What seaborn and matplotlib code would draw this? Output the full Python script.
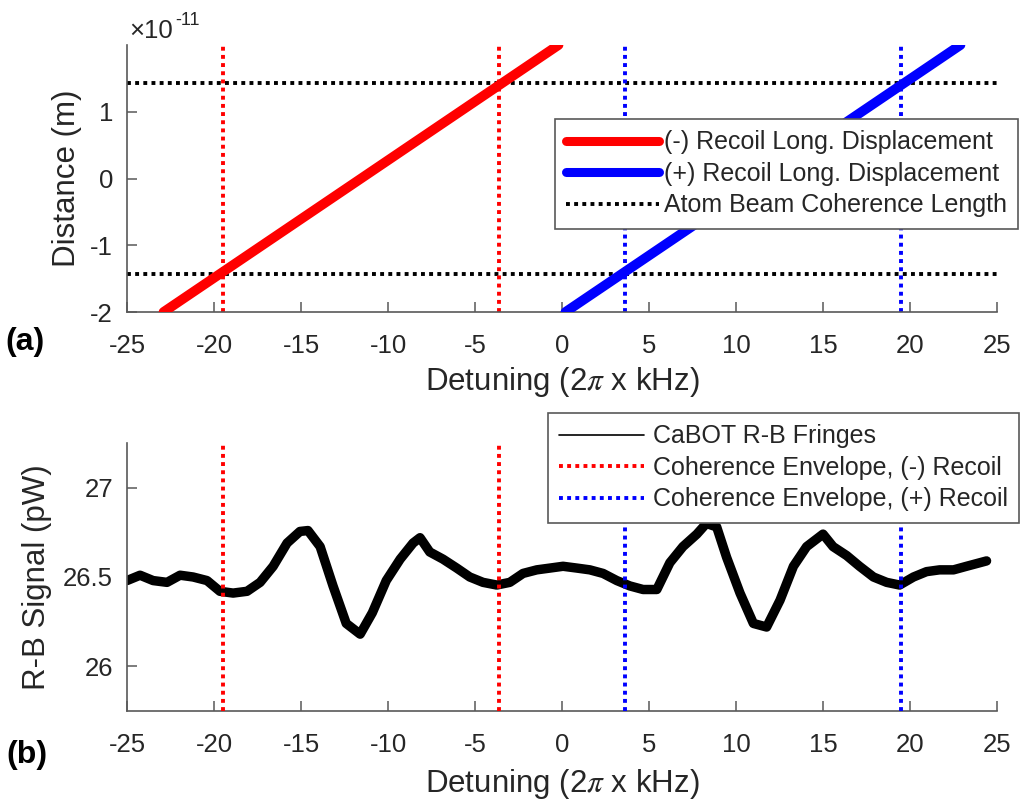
import matplotlib
matplotlib.use("Agg")
import matplotlib.pyplot as plt
import seaborn as sns
import pandas as pd
from matplotlib.lines import Line2D

# ---------------- data ----------------
det_ticks = [-25, -20, -15, -10, -5, 0, 5, 10, 15, 20, 25]
det_tick_labels = ["-25", "-20", "-15", "-10", "-5", "0", "5", "10", "15", "20", "25"]

# panel (a): recoil longitudinal displacement lines
neg_det = [-22.9, -0.2]
neg_dist = [-2.0e-11, 2.0e-11]
pos_det = [0.2, 22.9]
pos_dist = [-2.0e-11, 2.0e-11]
coh_len = [-1.43e-11, 1.43e-11]
env_neg = [-19.5, -3.6]
env_pos = [3.6, 19.5]
dist_ticks = [-2e-11, -1e-11, 0, 1e-11]
dist_tick_labels = ["-2", "-1", "0", "1"]

# panel (b): measured fringe signal
sig_det = [-25.0, -24.25, -23.5, -22.7, -21.95, -21.2, -20.4, -19.66, -18.9, -18.1,
           -17.35, -16.6, -15.8, -15.06, -14.6, -13.9, -13.16, -12.4, -11.6, -10.9,
           -10.1, -9.3, -8.56, -8.16, -7.6, -6.84, -6.05, -5.3, -4.54, -3.75,
           -3.0, -2.24, -1.45, -0.69, 0.06, 0.85, 1.6, 2.36, 3.15, 3.9,
           4.66, 5.45, 6.2, 6.95, 7.75, 8.3, 8.89, 9.46, 10.23, 11.0,
           11.76, 12.53, 13.3, 14.06, 15.0, 15.58, 16.36, 17.1, 17.9, 18.66,
           19.4, 20.2, 20.95, 21.7, 22.5, 23.25, 24.4]
sig_val = [26.48, 26.51, 26.48, 26.47, 26.51, 26.50, 26.48, 26.42, 26.41, 26.42,
           26.47, 26.56, 26.69, 26.755, 26.76, 26.67, 26.45, 26.24, 26.18, 26.30,
           26.48, 26.60, 26.69, 26.72, 26.64, 26.60, 26.55, 26.50, 26.47, 26.455,
           26.47, 26.52, 26.54, 26.55, 26.56, 26.55, 26.54, 26.52, 26.48, 26.45,
           26.43, 26.43, 26.58, 26.67, 26.74, 26.80, 26.78, 26.61, 26.41, 26.24,
           26.22, 26.37, 26.56, 26.67, 26.74, 26.67, 26.62, 26.56, 26.50, 26.47,
           26.455, 26.50, 26.53, 26.54, 26.54, 26.56, 26.59]
sig_ticks = [26, 26.5, 27]
sig_tick_labels = ["26", "26.5", "27"]

# ---------------- style ----------------
sns.set_theme(style="ticks")
plt.rcParams["font.family"] = ["Liberation Sans", "DejaVu Sans"]
plt.rcParams["axes.unicode_minus"] = False
plt.rcParams["mathtext.fontset"] = "stix"

TXT = "0.15"
SPN = "0.35"
DOT = (0, (1.0, 1.1))
TICK_FS = 18.5
LAB_FS = 22.5
LEG_FS = 18

fig = plt.figure(figsize=(10.21, 8.01), dpi=100)
W, H = 1021, 801
ax1 = fig.add_axes([127 / W, 1 - 312 / H, 870 / W, 267 / H])
ax2 = fig.add_axes([127 / W, 1 - 711 / H, 870 / W, 268 / H])

# ---------------- panel (a) ----------------
for y in coh_len:
    ax1.axhline(y, color="black", lw=2.8, ls=DOT, dash_capstyle="butt", zorder=2)
for x in env_neg:
    ax1.axvline(x, color="red", lw=2.8, ls=DOT, dash_capstyle="butt", zorder=2)
for x in env_pos:
    ax1.axvline(x, color="blue", lw=2.8, ls=DOT, dash_capstyle="butt", zorder=2)
sns.lineplot(x=neg_det, y=neg_dist, ax=ax1, color="red", lw=7, zorder=3)
sns.lineplot(x=pos_det, y=pos_dist, ax=ax1, color="blue", lw=7, zorder=3)

ax1.set_xlim(-25, 25)
ax1.set_ylim(-2e-11, 2e-11)
ax1.set_xticks(det_ticks, det_tick_labels)
ax1.set_yticks(dist_ticks, dist_tick_labels)
ax1.set_xlabel("Detuning (2$\\pi$ x kHz)", fontsize=LAB_FS, color=TXT, labelpad=5)
ax1.set_ylabel("Distance (m)", fontsize=LAB_FS, color=TXT, va="center")
ax1.yaxis.set_label_coords(-0.069, 0.5)

h1 = [Line2D([], [], color="red", lw=6.5),
      Line2D([], [], color="blue", lw=6.5),
      Line2D([], [], color="black", lw=2.8, ls=DOT, dash_capstyle="butt")]
l1 = ["(-) Recoil Long. Displacement", "(+) Recoil Long. Displacement",
      "Atom Beam Coherence Length"]
leg1 = ax1.legend(h1, l1, loc="upper right", bbox_to_anchor=(1018 / W, 1 - 119 / H),
                  bbox_transform=fig.transFigure, borderaxespad=0, fancybox=False,
                  framealpha=1, edgecolor=SPN, fontsize=LEG_FS, handlelength=3.7,
                  handletextpad=0.2, labelspacing=0.3, borderpad=0.45)
leg1.get_frame().set_linewidth(1.2)
for t in leg1.get_texts():
    t.set_color(TXT)

# ---------------- panel (b) ----------------
df = pd.DataFrame({"det": sig_det, "sig": sig_val})
for x in env_neg:
    ax2.axvline(x, color="red", lw=2.8, ls=DOT, dash_capstyle="butt", zorder=3)
for x in env_pos:
    ax2.axvline(x, color="blue", lw=2.8, ls=DOT, dash_capstyle="butt", zorder=3)
sns.lineplot(data=df, x="det", y="sig", ax=ax2, color="black", lw=6.8, zorder=2,
             sort=False)
ax2.set_xlim(-25, 25)
ax2.set_ylim(25.75, 27.25)
ax2.set_xticks(det_ticks, det_tick_labels)
ax2.set_yticks(sig_ticks, sig_tick_labels)
ax2.set_xlabel("Detuning (2$\\pi$ x kHz)", fontsize=LAB_FS, color=TXT, labelpad=7)
ax2.set_ylabel("R-B Signal (pW)", fontsize=LAB_FS, color=TXT, va="center")
ax2.yaxis.set_label_coords(-0.104, 0.5)

h2 = [Line2D([], [], color="black", lw=1.2),
      Line2D([], [], color="red", lw=2.8, ls=DOT, dash_capstyle="butt"),
      Line2D([], [], color="blue", lw=2.8, ls=DOT, dash_capstyle="butt")]
l2 = ["CaBOT R-B Fringes", "Coherence Envelope, (-) Recoil",
      "Coherence Envelope, (+) Recoil"]
leg2 = ax2.legend(h2, l2, loc="upper right", bbox_to_anchor=(1019 / W, 1 - 413 / H),
                  bbox_transform=fig.transFigure, borderaxespad=0, fancybox=False,
                  framealpha=1, edgecolor=SPN, fontsize=LEG_FS, handlelength=3.4,
                  handletextpad=0.35, labelspacing=0.3, borderpad=0.45)
leg2.get_frame().set_linewidth(1.2)
for t in leg2.get_texts():
    t.set_color(TXT)

# ---------------- common axis styling ----------------
for ax in (ax1, ax2):
    ax.spines["top"].set_visible(False)
    ax.spines["right"].set_visible(False)
    for s in ("left", "bottom"):
        ax.spines[s].set_color(SPN)
        ax.spines[s].set_linewidth(1.2)
    ax.tick_params(axis="both", direction="in", length=7, width=1.1, colors=SPN,
                   labelcolor=TXT, labelsize=TICK_FS)
    ax.tick_params(axis="x", pad=16)
    ax.tick_params(axis="y", pad=10)

# offset text for panel (a)
fig.text(129 / W, 1 - 38 / H, "\u00d710", fontsize=TICK_FS, color=TXT, va="baseline")
fig.text(175 / W, 1 - 25 / H, "-11", fontsize=13, color=TXT, va="baseline")

# panel labels
fig.text(5 / W, 1 - 342 / H, "(a)", fontsize=23, fontweight="bold", color="black",
         va="center")
fig.text(6 / W, 1 - 755 / H, "(b)", fontsize=23, fontweight="bold", color="black",
         va="center")

fig.savefig("out.png", dpi=100)
